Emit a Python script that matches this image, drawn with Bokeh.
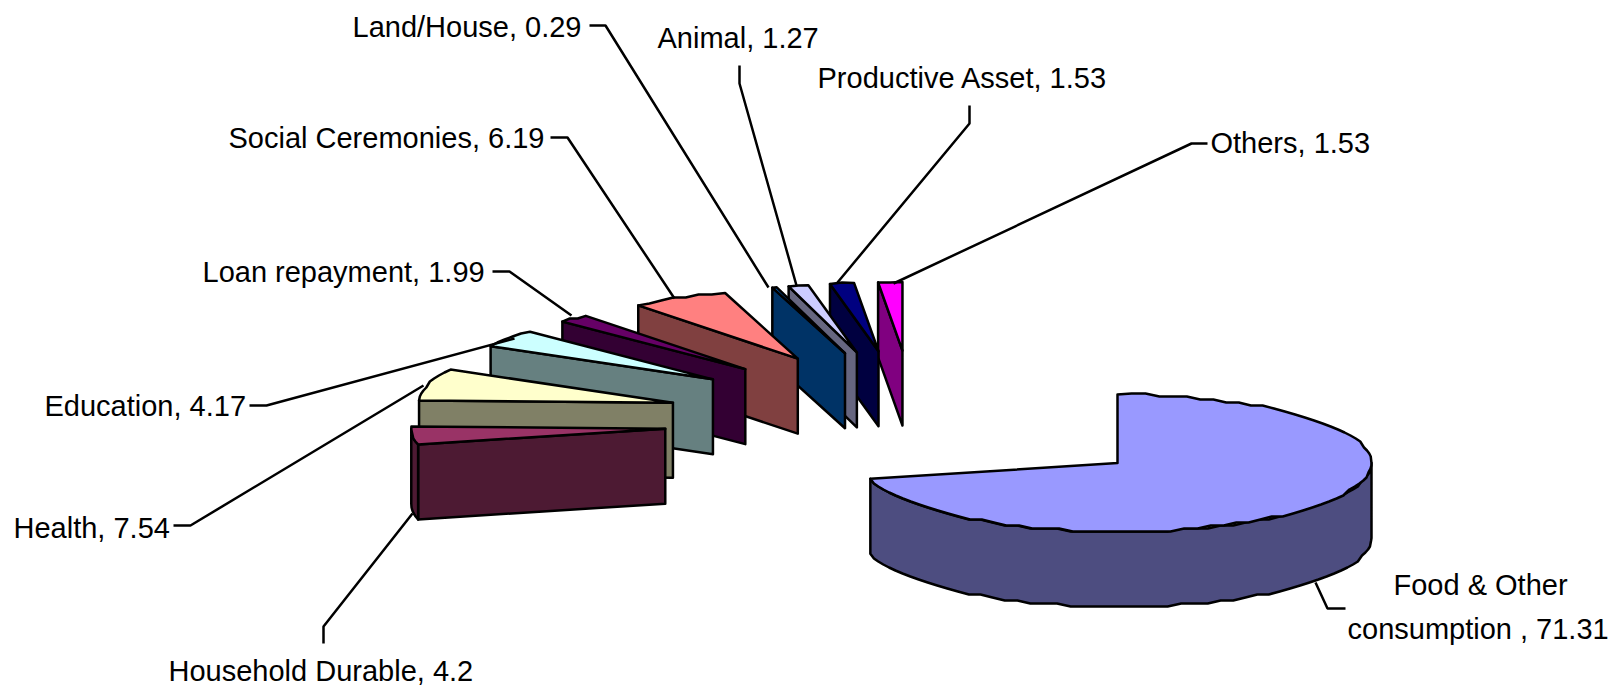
import numpy as np
from bokeh.plotting import figure
from bokeh.models import Range1d
from bokeh.core.properties import value
from bokeh.embed import file_html
from bokeh.resources import INLINE

# ---- data (clockwise from 12 o'clock) ----
categories = ["Food & Other consumption", "Household Durable", "Health", "Education",
              "Loan repayment", "Social Ceremonies", "Land/House", "Animal",
              "Productive Asset", "Others"]
values = [71.31, 4.2, 7.54, 4.17, 1.99, 6.19, 0.29, 1.27, 1.53, 1.53]
top_colors = ["#9999FF", "#993366", "#FFFFCC", "#CCFFFF", "#660066",
              "#FF8080", "#0066CC", "#CCCCFF", "#000080", "#FF00FF"]
side_colors = ["#4D4D80", "#4D1A33", "#808066", "#668080", "#330033",
               "#804040", "#003366", "#666680", "#000040", "#800080"]

labels = ["Land/House, 0.29", "Social Ceremonies, 6.19", "Loan repayment, 1.99",
          "Education, 4.17", "Health, 7.54", "Household Durable, 4.2",
          "Animal, 1.27", "Productive Asset, 1.53", "Others, 1.53",
          "Food & Other", "consumption , 71.31"]
label_x = [352, 228, 202, 44, 13, 168, 657, 817, 1210, 1393, 1347]
label_y = [26, 137, 271, 405, 527, 670, 37, 77, 142, 584, 628]

leaders = [
    [(589, 25), (605, 25), (768, 287)],
    [(550, 137), (567, 137), (674, 298)],
    [(492, 271), (509, 271), (571, 315)],
    [(249, 405), (266, 405), (514, 338)],
    [(173, 525), (190, 525), (423, 385)],
    [(323, 643), (323, 626), (412, 513)],
    [(739, 65), (739, 83), (796, 285)],
    [(969, 105), (969, 123), (837, 282)],
    [(1207, 143), (1191, 143), (893, 283)],
    [(1345, 608), (1327, 608), (1315, 582)],
]

# ---- projection of the 3-D pie ----
CX, CY = 914.0, 421.0
RX, RY = 254.0, 68.5
EX, EY = 250.5, 71.0     # explosion distance
DEPTH = 75.0
FOOD_NUDGE = (6.5, -2.5)
STEP = 3.0               # the source draws its arcs as short, slightly stepped chords


def rim(apex, deg):
    a = np.radians(np.asarray(deg, dtype=float))
    return apex[0] + RX * np.sin(a), apex[1] - RY * np.cos(a)


def arc(apex, lo, hi):
    n = max(int((hi - lo) / 3.2) + 1, 1)
    t = np.linspace(lo, hi, n + 1)
    x, y = rim(apex, t)
    y[1:-1] = np.round(y[1:-1] / STEP) * STEP
    return x, y


total = sum(values)
edges = np.concatenate([[0.0], np.cumsum(values)]) / total * 360.0

xs, ys, fills = [], [], []
order = list(range(len(values) - 1, 0, -1)) + [0]
for i in order:
    a, b = edges[i], edges[i + 1]
    m = np.radians((a + b) / 2)
    apex = (CX + EX * np.sin(m), CY - EY * np.cos(m))
    if i == 0:
        apex = (apex[0] + FOOD_NUDGE[0], apex[1] + FOOD_NUDGE[1])
    # radial wall seen at the slice's starting edge (back-left slices only)
    if i != 0:
        rx0, ry0 = rim(apex, a)
        xs.append([apex[0], rx0, rx0, apex[0]])
        ys.append([apex[1], ry0, ry0 + DEPTH, apex[1] + DEPTH])
        fills.append(side_colors[i])
    # outer rim, only where it faces the viewer
    lo, hi = max(a, 90.0), min(b, 270.0)
    if hi > lo:
        rxs, rys = arc(apex, lo, hi)
        xs.append(list(rxs) + list(rxs[::-1]))
        ys.append(list(rys) + list((rys + DEPTH)[::-1]))
        fills.append(side_colors[i])
    # top face
    rxs, rys = arc(apex, a, b)
    xs.append([apex[0]] + list(rxs))
    ys.append([apex[1]] + list(rys))
    fills.append(top_colors[i])

W, H = 1616, 685
p = figure(width=W, height=H, output_backend="svg", toolbar_location=None,
           x_range=Range1d(0, W), y_range=Range1d(H, 0),
           min_border=0, outline_line_color=None, background_fill_color="white",
           border_fill_color="white")
p.axis.visible = False
p.grid.visible = False

p.patches(xs, ys, fill_color=fills, line_color="black", line_width=2.5, line_join="round")

p.multi_line([[pt[0] for pt in l] for l in leaders], [[pt[1] for pt in l] for l in leaders],
             line_color="black", line_width=2.5)

p.text(label_x, label_y, text=labels, text_font=value("Liberation Sans"),
       text_font_size="29px", text_color="black",
       text_baseline="alphabetic", text_align="left")

open("out.html", "w").write(file_html(p, INLINE))
